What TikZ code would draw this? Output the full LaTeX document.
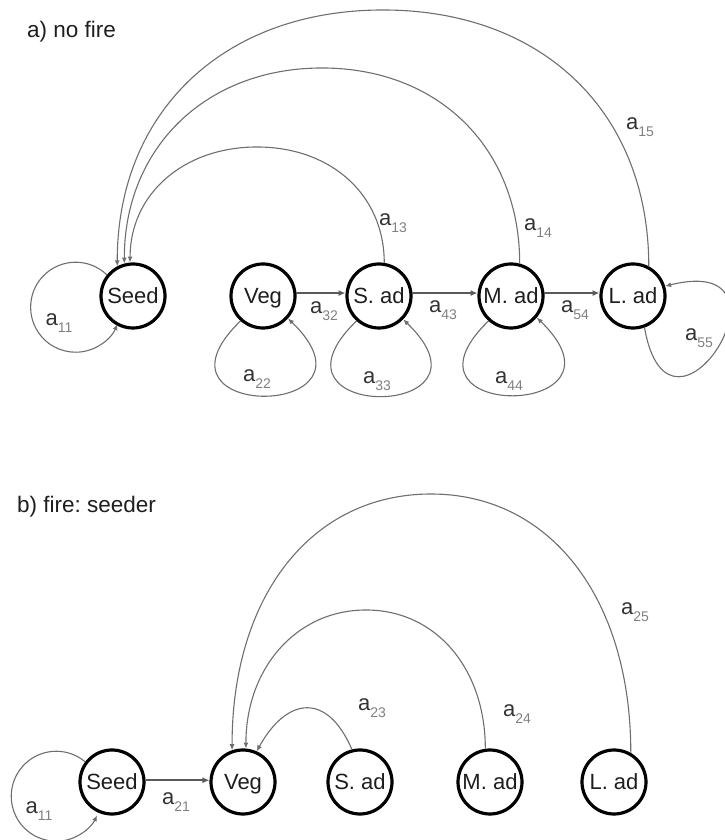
\documentclass[tikz,border=0pt]{standalone}
\usepackage{fontspec}
\setmainfont{Liberation Sans}
\usetikzlibrary{arrows.meta}
\definecolor{nodetext}{HTML}{1E1E1E}
\definecolor{arcgray}{HTML}{6E6E6E}
\definecolor{flowgray}{HTML}{5A5A5A}
\definecolor{labgray}{HTML}{333333}
\definecolor{subgray}{HTML}{808080}
\newcommand\alab[1]{{\color{labgray}a}\raisebox{-6.5pt}{\fontsize{14}{14}\selectfont\color{subgray}#1}}
\frenchspacing
\begin{document}
\begin{tikzpicture}[x=1pt,y=1pt,
  stage/.style={circle, draw=black, line width=3.2pt, fill=white, minimum size=64pt, inner sep=0pt, text=nodetext, text height=15.8pt, text depth=0pt, font=\fontsize{22}{26}\selectfont},
  heading/.style={anchor=base west, text=nodetext, inner sep=0pt, font=\fontsize{22.5}{27}\selectfont},
  lab/.style={inner sep=0pt, font=\fontsize{22}{26}\selectfont},
  arcline/.style={draw=arcgray, line width=1.1pt, -{Latex[length=6pt,width=5pt]}},
  flow/.style={draw=flowgray, line width=1.8pt, -{Latex[length=7pt,width=6pt]}},
]
\useasboundingbox (0,0) rectangle (724,840);

% ---------- a) no fire ----------
\node[heading] (ha) at (27,802) {a) no fire};
\node[stage] (Seed) at (133,544) {Seed};
\node[stage] (Veg)  at (263,544) {Veg};
\node[stage] (Sad)  at (379,544) {S. ad};
\node[stage] (Mad)  at (511,544) {M. ad};
\node[stage] (Lad)  at (633,544) {L. ad};

\coordinate (t13) at (257,693);
\coordinate (t14) at (322,772);
\coordinate (t15) at (383,830);

\draw[arcline] (Sad.81) .. controls +(0,68) and +(74,0) .. (t13) .. controls +(-74,0) and +(0,68) .. (Seed.95);
\draw[arcline] (Mad.75) .. controls +(0,115) and +(117,0) .. (t14) .. controls +(-117,0) and +(0,115) .. (Seed.105);
\draw[arcline] (Lad.62) .. controls +(0,154) and +(160,0) .. (t15) .. controls +(-160,0) and +(0,154) .. (Seed.118);

\draw[arcline] (Seed.141) arc[start angle=46, end angle=338, radius=45];
\draw[arcline] (Veg.228) .. controls +(224:146) and +(316:146) .. (Veg.318);
\draw[arcline] (Sad.228) .. controls +(224:146) and +(316:146) .. (Sad.316);
\draw[arcline] (Mad.228) .. controls +(224:146) and +(316:146) .. (Mad.320);
\draw[arcline] (Lad.290) .. controls +(280:146) and +(14:146) .. (Lad.17);

\draw[flow] (Veg.5) -- (Sad.175);
\draw[flow] (Sad.5) -- (Mad.175);
\draw[flow] (Mad.5) -- (Lad.175);

\node[lab] (l11a) at (59,517) {\alab{11}};
\node[lab] (l22)  at (257,461) {\alab{22}};
\node[lab] (l32)  at (324,529) {\alab{32}};
\node[lab] (l33)  at (377,459) {\alab{33}};
\node[lab] (l43)  at (443,530) {\alab{43}};
\node[lab] (l44)  at (509,459) {\alab{44}};
\node[lab] (l54)  at (575,530) {\alab{54}};
\node[lab] (l55)  at (699,502) {\alab{55}};
\node[lab] (l13)  at (393,617) {\alab{13}};
\node[lab] (l14)  at (538,612) {\alab{14}};
\node[lab] (l15)  at (640,713) {\alab{15}};

% ---------- b) fire: seeder ----------
\node[heading] (hb) at (17,327) {b) fire: seeder};
\node[stage] (SeedB) at (112,58) {Seed};
\node[stage] (VegB)  at (243,58) {Veg};
\node[stage] (SadB)  at (360,58) {S. ad};
\node[stage] (MadB)  at (490,58) {M. ad};
\node[stage] (LadB)  at (614,58) {L. ad};

\coordinate (t24) at (366,230);
\coordinate (t25) at (431,346);

\draw[arcline] (SadB.104) .. controls +(-25,58) and +(30,54) .. (VegB.66);
\draw[arcline] (MadB.98) .. controls +(0,80) and +(70,0) .. (t24) .. controls +(-70,0) and +(0,80) .. (VegB.85);
\draw[arcline] (LadB.60) .. controls +(0,155) and +(119,0) .. (t25) .. controls +(-119,0) and +(0,155) .. (VegB.109);

\draw[arcline] (SeedB.143) arc[start angle=50, end angle=335, radius=45];
\draw[flow] (SeedB.3) -- (VegB.177);

\node[lab] (l11b) at (39,29) {\alab{11}};
\node[lab] (l21)  at (176,38) {\alab{21}};
\node[lab] (l23)  at (372,132) {\alab{23}};
\node[lab] (l24)  at (517,126) {\alab{24}};
\node[lab] (l25)  at (635,228) {\alab{25}};
\end{tikzpicture}
\end{document}
